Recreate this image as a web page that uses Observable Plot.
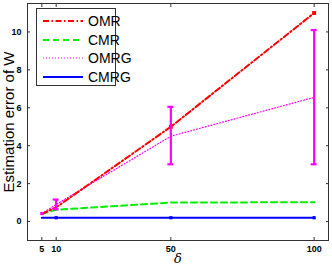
<!DOCTYPE html>
<html>
<head>
<meta charset="utf-8">
<script src="https://cdn.jsdelivr.net/npm/d3@7"></script>
<script src="https://cdn.jsdelivr.net/npm/@observablehq/plot@0.6"></script>
<style>
  html, body { margin: 0; padding: 0; background: #fff; }
  #wrap { position: relative; width: 332px; height: 265px; font-family: "Liberation Sans", Arial, sans-serif; }
  #legend { position: absolute; left: 36px; top: 8px; width: 80px; height: 78px; border: 1px solid #333; background: #fff; box-sizing: border-box; }
  .item { position: absolute; left: 0; height: 18px; display: flex; align-items: center; }
  .item svg { margin-left: 6px; }
  .item span { margin-left: 5px; font-size: 14px; color: #000; }
</style>
</head>
<body>
<div id="wrap"><div id="legend"></div></div>
<script>
const deltas = [5, 10, 50, 100];
const xTicks = [5, 10, 50, 100];
const yTicks = [0, 2, 4, 6, 8, 10];
const seriesNames = ["OMR", "CMR", "OMRG", "CMRG"];
const omr  = [0.4, 0.75, 5.0, 11.0];
const cmr  = [0.4, 0.62, 1.0, 1.02];
const omrg = [0.42, 0.9, 4.5, 6.55];
const omrgLow  = [0.42, 0.65, 3.02, 3.02];
const omrgHigh = [0.42, 1.16, 6.05, 10.1];
const cmrg = [0.2, 0.2, 0.2, 0.2];
const yLabel = "Estimation error of W";
const xLabel = "δ";

const colors = {OMR: "#ff0000", CMR: "#00ee00", OMRG: "#ff00ff", CMRG: "#0000ff"};
const dashes = {OMR: "6,2.5,1.5,2.5", CMR: "6,4", OMRG: "1,2", CMRG: null};
const widths = {OMR: 2, CMR: 2, OMRG: 1.2, CMRG: 2};

const mk = (vals) => deltas.map((x, i) => ({x, y: vals[i]}));
const series = {OMR: mk(omr), CMR: mk(cmr), OMRG: mk(omrg), CMRG: mk(cmrg)};
const errs = deltas.map((x, i) => ({x, lo: omrgLow[i], hi: omrgHigh[i]})).filter((d, i) => i > 0);

const lineMarks = ["CMRG", "CMR", "OMRG", "OMR"].map(k =>
  Plot.line(series[k], {x: "x", y: "y", stroke: colors[k], strokeWidth: widths[k], strokeDasharray: dashes[k]})
);
const noLabel = () => "";

const chart = Plot.plot({
  width: 332,
  height: 265,
  marginLeft: 27,
  marginTop: 3,
  marginRight: 4,
  marginBottom: 25,
  style: {fontFamily: "Liberation Sans, Arial, sans-serif", background: "transparent"},
  x: {domain: [0, 105]},
  y: {domain: [-1, 11.5]},
  marks: [
    Plot.frame({stroke: "#333", strokeWidth: 1}),
    Plot.axisX(xTicks, {anchor: "bottom", tickSize: -3, tickPadding: 8, fontSize: 9, fontWeight: "bold", label: null, stroke: "#333"}),
    Plot.axisX(xTicks, {anchor: "top", tickSize: -3, tickFormat: noLabel, label: null, stroke: "#333"}),
    Plot.axisY(yTicks, {anchor: "left", tickSize: -3, tickPadding: 9, fontSize: 9, fontWeight: "bold", label: null, stroke: "#333"}),
    Plot.axisY(yTicks, {anchor: "right", tickSize: -3, tickFormat: noLabel, label: null, stroke: "#333"}),
    ...lineMarks,
    Plot.dot(series.OMR.slice(2), {x: "x", y: "y", symbol: "square", r: 2.2, fill: colors.OMR}),
    Plot.dot(series.CMRG.slice(1), {x: "x", y: "y", symbol: "square", r: 1.8, fill: colors.CMRG}),
    Plot.dot(series.OMRG.slice(0, 1), {x: "x", y: "y", symbol: "square", r: 1.8, fill: colors.OMRG}),
    Plot.ruleX(errs, {x: "x", y1: "lo", y2: "hi", stroke: colors.OMRG, strokeWidth: 2.2}),
    Plot.ruleY(errs, {y: "lo", x1: "x", x2: "x", insetLeft: -3, insetRight: -3, stroke: colors.OMRG, strokeWidth: 2.2}),
    Plot.ruleY(errs, {y: "hi", x1: "x", x2: "x", insetLeft: -3, insetRight: -3, stroke: colors.OMRG, strokeWidth: 2.2}),
    Plot.text([yLabel], {frameAnchor: "left", textAnchor: "middle", lineAnchor: "middle", rotate: -90, dx: -18, dy: 0, fontSize: 15, fill: "#000"}),
    Plot.text([xLabel], {frameAnchor: "bottom", textAnchor: "middle", lineAnchor: "middle", dy: 18, fontSize: 13, fontStyle: "italic", fill: "#000", fontFamily: "DejaVu Serif, serif"})
  ]
});
document.getElementById("wrap").prepend(chart);

const legend = document.getElementById("legend");
seriesNames.forEach((k, i) => {
  const item = document.createElement("div");
  item.className = "item";
  item.style.top = (3 + i * 18.5) + "px";
  const svg = `<svg width="40" height="6"><line x1="0" y1="3" x2="40" y2="3" stroke="${colors[k]}" stroke-width="${widths[k]}" ${dashes[k] ? `stroke-dasharray="${dashes[k]}"` : ""}/></svg>`;
  item.innerHTML = svg + `<span>${k}</span>`;
  legend.appendChild(item);
});
</script>
</body>
</html>
